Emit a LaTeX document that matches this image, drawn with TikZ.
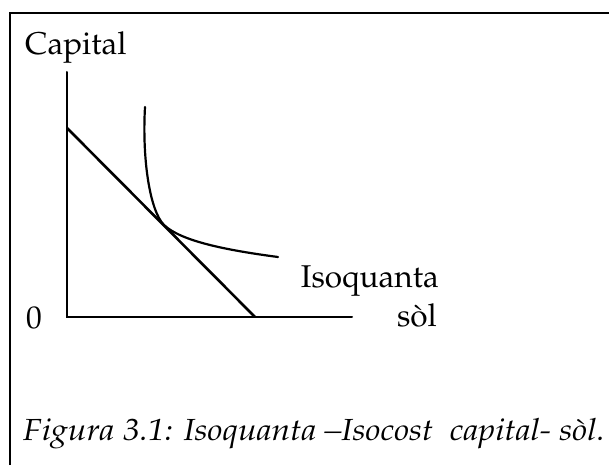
\documentclass[tikz,border=0pt]{standalone}
\usepackage[T1]{fontenc}
\usepackage{mathpazo}
\usepackage{graphicx}
\usepackage{tikz}
\usetikzlibrary{positioning}

\begin{document}
\begin{tikzpicture}[
    x=1pt, y=-1pt,
    lbl/.style={inner sep=0pt, font=\fontsize{31.5}{38}\selectfont},
    capt/.style={inner sep=0pt, font=\fontsize{30.5}{36}\selectfont\itshape},
    axis/.style={line width=2pt},
    budget/.style={line width=2.6pt},
    iso/.style={line width=2.2pt},
    line cap=round
]
    \useasboundingbox (0,0) rectangle (609,465);

    % --- Frame ---
    \coordinate (fr_bl) at (10,465);
    \coordinate (fr_tl) at (10,13);
    \coordinate (fr_tr) at (609,13);
    \draw[line width=2.4pt, line cap=butt] (fr_bl) -- (fr_tl) -- (fr_tr);

    % --- Coordinates ---
    % Axes
    \coordinate (origin) at (67,317);
    \coordinate (y_top)  at (67,72);
    \coordinate (x_end)  at (352,317);

    % Isocost line
    \coordinate (c_top) at (67,128);
    \coordinate (c_bot) at (255,317);

    % Isoquant
    \coordinate (q_start) at (145,107);
    \coordinate (q_tan)   at (164,225);
    \coordinate (q_end)   at (278,257);

    % --- Axes ---
    \draw[axis] (y_top) -- (origin) -- (x_end);

    % --- Isocost ---
    \draw[budget] (c_top) -- (c_bot);

    % --- Isoquant ---
    \draw[iso] (q_start) .. controls (142,160) and (150,211) .. (q_tan)
               .. controls (181,241) and (225,250) .. (q_end);

    % --- Labels ---
    \node[lbl, anchor=base west] (capital) at (25,55)  {Capital};
    \node[lbl, anchor=base west] (zero)    at (26,328) {0};
    \node[lbl, anchor=base east] (isoq)    at (439,287) {Isoquanta};
    \node[lbl, anchor=base east] (sol)     at (437,326) {s\`ol};

    % --- Caption ---
    \node[capt, anchor=base west] (caption) at (23,440)
        {\scalebox{1.1}[1]{\makebox[529pt][s]{Figura 3.1: Isoquanta --Isocost\ \ capital- s\`ol.}}};

\end{tikzpicture}
\end{document}
